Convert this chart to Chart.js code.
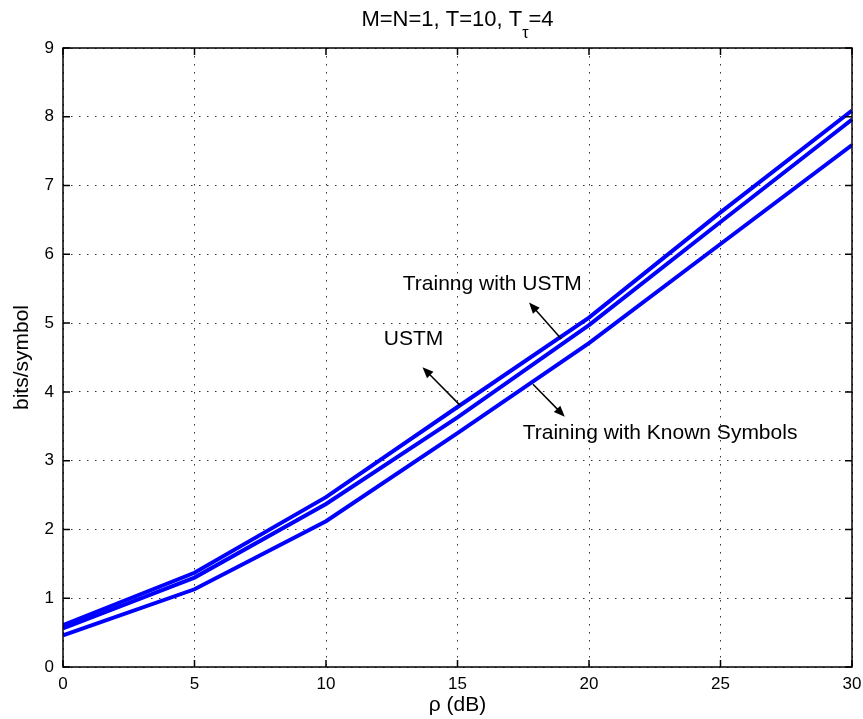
<!DOCTYPE html>
<html>
<head>
<meta charset="utf-8">
<script src="https://cdn.jsdelivr.net/npm/chart.js@4/dist/chart.umd.min.js"></script>
<style>
  body { margin: 0; background: #fff; }
  #wrap { width: 863px; height: 719px; }
</style>
</head>
<body>
<div id="wrap"><canvas id="grafico"></canvas></div>
<script>
// valores
const rho = [0, 5, 10, 15, 20, 25, 30];
const ustm = [0.61, 1.37, 2.47, 3.78, 5.08, 6.61, 8.09];
const treinoUstm = [0.56, 1.30, 2.37, 3.63, 4.97, 6.47, 7.96];
const treinoConhecidos = [0.46, 1.13, 2.12, 3.40, 4.71, 6.15, 7.59];

const xTicks = [0, 5, 10, 15, 20, 25, 30];
const yTicks = [0, 1, 2, 3, 4, 5, 6, 7, 8, 9];

// anotações (em coordenadas de dados)
const anotacoes = [
  { texto: "Trainng with USTM", x: 12.92, y: 5.56, de: [18.95, 4.77], para: [17.72, 5.30] },
  { texto: "USTM", x: 12.2, y: 4.76, de: [15.11, 3.80], para: [13.67, 4.36] },
  { texto: "Training with Known Symbols", x: 17.48, y: 3.40, de: [17.87, 4.11], para: [19.08, 3.64] },
];

const fonte = "'Liberation Sans', Arial, Helvetica, sans-serif";

function pontos(valores) {
  return valores.map((v, i) => ({ x: rho[i], y: v }));
}

function seta(ctx, x1, y1, x2, y2) {
  const ang = Math.atan2(y2 - y1, x2 - x1);
  const tam = 11;
  const larg = 4.5;
  ctx.beginPath();
  ctx.moveTo(x1, y1);
  ctx.lineTo(x2 - Math.cos(ang) * tam * 0.8, y2 - Math.sin(ang) * tam * 0.8);
  ctx.stroke();
  ctx.beginPath();
  ctx.moveTo(x2, y2);
  ctx.lineTo(x2 - tam * Math.cos(ang) + larg * Math.sin(ang), y2 - tam * Math.sin(ang) - larg * Math.cos(ang));
  ctx.lineTo(x2 - tam * Math.cos(ang) - larg * Math.sin(ang), y2 - tam * Math.sin(ang) + larg * Math.cos(ang));
  ctx.closePath();
  ctx.fill();
}

const moldura = {
  id: "moldura",
  afterDraw(chart) {
    const { ctx, chartArea: a, scales } = chart;
    const sx = scales.x;
    const sy = scales.y;
    ctx.save();

    // caixa e marcas internas
    ctx.strokeStyle = "#000";
    ctx.lineWidth = 1.5;
    ctx.strokeRect(a.left, a.top, a.right - a.left, a.bottom - a.top);
    ctx.beginPath();
    xTicks.forEach((t) => {
      const px = sx.getPixelForValue(t);
      ctx.moveTo(px, a.bottom); ctx.lineTo(px, a.bottom - 7);
      ctx.moveTo(px, a.top); ctx.lineTo(px, a.top + 7);
    });
    yTicks.forEach((t) => {
      const py = sy.getPixelForValue(t);
      ctx.moveTo(a.left, py); ctx.lineTo(a.left + 7, py);
      ctx.moveTo(a.right, py); ctx.lineTo(a.right - 7, py);
    });
    ctx.stroke();

    // título com subscrito
    ctx.fillStyle = "#000";
    ctx.textBaseline = "alphabetic";
    ctx.textAlign = "left";
    const p1 = "M=N=1, T=10, T";
    const sub = "\u03c4";
    const p2 = "=4";
    ctx.font = "22px " + fonte;
    const w1 = ctx.measureText(p1).width;
    const w3 = ctx.measureText(p2).width;
    ctx.font = "16px " + fonte;
    const w2 = ctx.measureText(sub).width;
    let x0 = (a.left + a.right) / 2 - (w1 + w2 + w3) / 2;
    ctx.font = "22px " + fonte;
    ctx.fillText(p1, x0, 26);
    ctx.font = "16px " + fonte;
    ctx.fillText(sub, x0 + w1, 38);
    ctx.font = "22px " + fonte;
    ctx.fillText(p2, x0 + w1 + w2, 26);

    // títulos dos eixos
    ctx.font = "21px " + fonte;
    ctx.textAlign = "center";
    ctx.textBaseline = "middle";
    ctx.fillText("\u03c1 (dB)", (a.left + a.right) / 2, 705);
    ctx.save();
    ctx.translate(22, (a.top + a.bottom) / 2);
    ctx.rotate(-Math.PI / 2);
    ctx.fillText("bits/symbol", 0, 0);
    ctx.restore();

    // anotações com setas
    ctx.font = "21px " + fonte;
    ctx.textAlign = "left";
    ctx.lineWidth = 1.5;
    ctx.strokeStyle = "#000";
    anotacoes.forEach((n) => {
      ctx.fillText(n.texto, sx.getPixelForValue(n.x), sy.getPixelForValue(n.y));
      seta(ctx,
        sx.getPixelForValue(n.de[0]), sy.getPixelForValue(n.de[1]),
        sx.getPixelForValue(n.para[0]), sy.getPixelForValue(n.para[1]));
    });
    ctx.restore();
  },
};

const ctx = document.getElementById("grafico").getContext("2d");
const serie = (rotulo, dados) => ({
  label: rotulo,
  data: pontos(dados),
  borderColor: "#0000ff",
  backgroundColor: "#0000ff",
  borderWidth: 4,
  pointRadius: 0,
  tension: 0,
  fill: false,
});

const meuGrafico = new Chart(ctx, {
  type: "line",
  data: {
    datasets: [
      serie("USTM", ustm),
      serie("Training with USTM", treinoUstm),
      serie("Training with Known Symbols", treinoConhecidos),
    ],
  },
  options: {
    responsive: true,
    maintainAspectRatio: false,
    animation: false,
    layout: { padding: { top: 48, right: 11, left: 0, bottom: 0 } },
    plugins: { legend: { display: false }, tooltip: { enabled: false } },
    scales: {
      x: {
        type: "linear",
        min: 0,
        max: 30,
        afterFit: (s) => { s.height = 52; s.paddingRight = 0; s.paddingLeft = 0; },
        ticks: { stepSize: 5, padding: 7, color: "#000", font: { size: 17, family: fonte } },
        grid: { color: "#333", lineWidth: 1, drawTicks: false },
        border: { display: false, dash: [1.5, 6.5] },
      },
      y: {
        min: 0,
        max: 9,
        afterFit: (s) => { s.width = 63; s.paddingTop = 0; s.paddingBottom = 0; },
        ticks: { stepSize: 1, padding: 9, color: "#000", font: { size: 17, family: fonte } },
        grid: { color: "#333", lineWidth: 1, drawTicks: false },
        border: { display: false, dash: [1.5, 6.5] },
      },
    },
  },
  plugins: [moldura],
});
</script>
</body>
</html>
